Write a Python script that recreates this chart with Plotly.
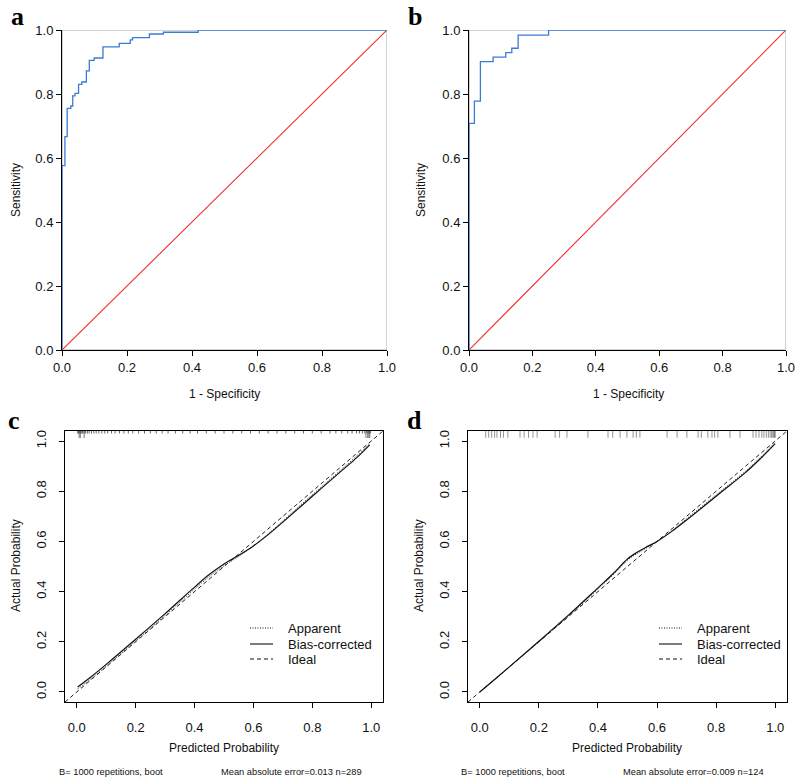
import plotly.graph_objects as go

W, H = 796, 780

# ---------------- data ----------------
tick_vals = [0.0, 0.2, 0.4, 0.6, 0.8, 1.0]
tick_text = ["0.0", "0.2", "0.4", "0.6", "0.8", "1.0"]

# ROC panel a (1 - specificity, sensitivity) step corners
roc_a_fpr = [0.0, 0.0, 0.009, 0.016, 0.027, 0.033, 0.040, 0.051, 0.061, 0.075, 0.084,
             0.099, 0.126, 0.176, 0.210, 0.217, 0.269, 0.312, 0.419, 1.0]
roc_a_tpr = [0.0, 0.576, 0.667, 0.755, 0.7625, 0.794, 0.802, 0.830, 0.8375, 0.872, 0.905,
             0.9125, 0.947, 0.958, 0.969, 0.976, 0.9875, 0.993, 1.0, 1.0]

# ROC panel b
roc_b_fpr = [0.0, 0.0, 0.017, 0.036, 0.076, 0.116, 0.135, 0.155, 0.251, 1.0]
roc_b_tpr = [0.0, 0.708, 0.778, 0.901, 0.915, 0.929, 0.943, 0.984, 1.0, 1.0]

chance = [0.0, 1.0]

# Calibration panel c
cal_c_pred = [0.003, 0.05, 0.1, 0.2, 0.3, 0.4, 0.45, 0.5, 0.55, 0.6, 0.65, 0.7, 0.8, 0.9, 0.95, 0.995]
cal_c_bias = [0.02, 0.062, 0.11, 0.21, 0.312, 0.418, 0.468, 0.51, 0.545, 0.582, 0.627, 0.677, 0.78, 0.882, 0.933, 0.985]
cal_c_app = [0.012, 0.054, 0.103, 0.203, 0.305, 0.41, 0.46, 0.503, 0.54, 0.582, 0.63, 0.682, 0.786, 0.888, 0.94, 0.99]

# Calibration panel d
cal_d_pred = [0.0, 0.05, 0.1, 0.2, 0.3, 0.4, 0.45, 0.5, 0.53, 0.56, 0.6, 0.65, 0.7, 0.8, 0.9, 0.95, 1.0]
cal_d_bias = [0.0, 0.05, 0.1, 0.202, 0.306, 0.415, 0.47, 0.53, 0.555, 0.575, 0.6, 0.64, 0.685, 0.78, 0.875, 0.93, 0.99]
cal_d_app = [0.0, 0.05, 0.1, 0.2, 0.302, 0.41, 0.465, 0.525, 0.55, 0.571, 0.6, 0.642, 0.69, 0.785, 0.88, 0.935, 0.995]

ideal = [-0.04, 1.04]

# rug (distribution of predicted probabilities)
rug_c = [0.003, 0.006, 0.01, 0.013, 0.017, 0.02, 0.025, 0.03, 0.036, 0.042, 0.05, 0.058, 0.066,
         0.075, 0.085, 0.095, 0.105, 0.118, 0.13, 0.145, 0.16, 0.175, 0.19, 0.21, 0.23, 0.25,
         0.27, 0.29, 0.31, 0.335, 0.36, 0.385, 0.41, 0.44, 0.47, 0.5, 0.53, 0.56, 0.59, 0.62,
         0.65, 0.68, 0.71, 0.74, 0.77, 0.8, 0.83, 0.86, 0.88, 0.9, 0.92, 0.935, 0.95, 0.96,
         0.97, 0.978, 0.985, 0.99, 0.994, 0.997]
rug_c_tall = [0.008, 0.012, 0.025, 0.982, 0.988, 0.992, 0.995]
rug_d = [0.02, 0.03, 0.04, 0.05, 0.058, 0.07, 0.08, 0.095, 0.136, 0.15, 0.165, 0.18, 0.194,
         0.255, 0.27, 0.295, 0.366, 0.434, 0.45, 0.475, 0.498, 0.519, 0.53, 0.542, 0.634,
         0.668, 0.701, 0.739, 0.75, 0.772, 0.786, 0.795, 0.806, 0.847, 0.881, 0.925, 0.935,
         0.945, 0.955, 0.962, 0.97, 0.977, 0.983, 0.988, 0.992, 0.995, 0.998, 1.0]

# ---------------- helpers ----------------
FONT = "Liberation Sans, Arial, sans-serif"
SERIF = "Liberation Serif, Times New Roman, serif"


def dx(p):
    return p / W


def dy(p):
    return 1 - p / H


def rug_xy(vals, top, length):
    xs, ys = [], []
    for v in vals:
        xs += [v, v, None]
        ys += [top, top - length, None]
    return xs, ys


fig = go.Figure()

BLUE = "#3a7bd5"
RED = "#ee3030"

# ROC a
fig.add_trace(go.Scatter(x=chance, y=chance, mode="lines", line=dict(color=RED, width=1.1),
                         xaxis="x", yaxis="y", showlegend=False, cliponaxis=False))
fig.add_trace(go.Scatter(x=roc_a_fpr, y=roc_a_tpr, mode="lines", line=dict(color=BLUE, width=1.3, shape="hv"),
                         xaxis="x", yaxis="y", showlegend=False, cliponaxis=False))
# ROC b
fig.add_trace(go.Scatter(x=chance, y=chance, mode="lines", line=dict(color=RED, width=1.1),
                         xaxis="x2", yaxis="y2", showlegend=False, cliponaxis=False))
fig.add_trace(go.Scatter(x=roc_b_fpr, y=roc_b_tpr, mode="lines", line=dict(color=BLUE, width=1.3, shape="hv"),
                         xaxis="x2", yaxis="y2", showlegend=False, cliponaxis=False))

YTOP = 1.04
# Calibration c
rx, ry = rug_xy(rug_c, YTOP, 0.01)
fig.add_trace(go.Scatter(x=rx, y=ry, mode="lines", line=dict(color="#444", width=0.8),
                         xaxis="x3", yaxis="y3", showlegend=False))
rx, ry = rug_xy(rug_c_tall, YTOP, 0.028)
fig.add_trace(go.Scatter(x=rx, y=ry, mode="lines", line=dict(color="#555", width=0.8),
                         xaxis="x3", yaxis="y3", showlegend=False))
fig.add_trace(go.Scatter(x=ideal, y=ideal, mode="lines", line=dict(color="#222", width=1, dash="4px,3px"),
                         xaxis="x3", yaxis="y3", showlegend=False))
fig.add_trace(go.Scatter(x=cal_c_pred, y=cal_c_app, mode="lines",
                         line=dict(color="#222", width=1, dash="1px,1.5px", shape="spline"),
                         xaxis="x3", yaxis="y3", showlegend=False))
fig.add_trace(go.Scatter(x=cal_c_pred, y=cal_c_bias, mode="lines",
                         line=dict(color="#111", width=1.2, shape="spline"),
                         xaxis="x3", yaxis="y3", showlegend=False))

# Calibration d
rx, ry = rug_xy(rug_d, YTOP, 0.027)
fig.add_trace(go.Scatter(x=rx, y=ry, mode="lines", line=dict(color="rgba(60,60,60,0.55)", width=1),
                         xaxis="x4", yaxis="y4", showlegend=False))
fig.add_trace(go.Scatter(x=ideal, y=ideal, mode="lines", line=dict(color="#222", width=1, dash="4px,3px"),
                         xaxis="x4", yaxis="y4", showlegend=False))
fig.add_trace(go.Scatter(x=cal_d_pred, y=cal_d_app, mode="lines",
                         line=dict(color="#222", width=1, dash="1px,1.5px", shape="spline"),
                         xaxis="x4", yaxis="y4", showlegend=False))
fig.add_trace(go.Scatter(x=cal_d_pred, y=cal_d_bias, mode="lines",
                         line=dict(color="#111", width=1.2, shape="spline"),
                         xaxis="x4", yaxis="y4", showlegend=False))


def roc_axis(domain, anchor):
    return dict(domain=domain, anchor=anchor, range=[0, 1], showgrid=False, zeroline=False,
                showline=True, linecolor="black", linewidth=1, ticks="outside", ticklen=5,
                tickcolor="black", tickwidth=1, tickvals=tick_vals, ticktext=tick_text,
                tickfont=dict(family=FONT, size=13, color="#111"), layer="below traces",
                automargin=False, ticklabeloverflow="allow")


def cal_axis(domain, anchor, rot):
    d = dict(domain=domain, anchor=anchor, range=[-0.04, 1.04], showgrid=False, zeroline=False,
             showline=True, mirror=True, linecolor="black", linewidth=1, ticks="outside", ticklen=5,
             tickcolor="black", tickwidth=1, tickvals=tick_vals, ticktext=tick_text,
             tickfont=dict(family=FONT, size=13, color="#111"), ticklabelstandoff=8,
             automargin=False, ticklabeloverflow="allow")
    if rot:
        d["tickangle"] = -90
    return d


ROC_Y = [dy(350), dy(30)]
CAL_Y = [dy(702), dy(431)]

layout = dict(
    template="none",
    width=W, height=H, margin=dict(l=0, r=0, t=0, b=0, autoexpand=False),
    paper_bgcolor="white", plot_bgcolor="white", showlegend=False,
    xaxis=roc_axis([dx(62), dx(387)], "y"),
    yaxis=roc_axis(ROC_Y, "x"),
    xaxis2=roc_axis([dx(469), dx(786)], "y2"),
    yaxis2=roc_axis(ROC_Y, "x2"),
    xaxis3=cal_axis([dx(65), dx(383)], "y3", False),
    yaxis3=cal_axis(CAL_Y, "x3", True),
    xaxis4=cal_axis([dx(468), dx(787)], "y4", False),
    yaxis4=cal_axis(CAL_Y, "x4", True),
)
fig.update_layout(**layout)

# gray frame on ROC panels
for xr, yr in [("x", "y"), ("x2", "y2")]:
    fig.add_shape(type="rect", xref=xr, yref=yr, x0=0, y0=0, x1=1, y1=1,
                  line=dict(color="#aaaaaa", width=1), layer="below")

ann = []


def text(x, y, s, size=12, angle=0, family=FONT, bold=False, xanchor="center", color="#111"):
    ann.append(dict(x=dx(x), y=dy(y), xref="paper", yref="paper", text=("<b>%s</b>" % s) if bold else s,
                    showarrow=False, xanchor=xanchor, yanchor="middle", textangle=angle,
                    font=dict(family=family, size=size, color=color)))


# panel letters
text(17, 16, "a", 26, family=SERIF, bold=True, color="black")
text(415, 16, "b", 26, family=SERIF, bold=True, color="black")
text(14, 420, "c", 26, family=SERIF, bold=True, color="black")
text(414, 420, "d", 26, family=SERIF, bold=True, color="black")

# axis titles
text(224, 394, "1 - Specificity")
text(628, 394, "1 - Specificity")
text(16, 190, "Sensitivity", angle=-90)
text(421, 190, "Sensitivity", angle=-90)
text(224, 748, "Predicted Probability")
text(627, 748, "Predicted Probability")
text(16, 566, "Actual Probability", angle=-90)
text(419, 566, "Actual Probability", angle=-90)

# footnotes
text(111, 772, "B= 1000 repetitions, boot", 9.3)
text(291, 772, "Mean absolute error=0.013 n=289", 9.3)
text(513, 772, "B= 1000 repetitions, boot", 9.3)
text(693, 772, "Mean absolute error=0.009 n=124", 9.3)

# legends
legend_labels = ["Apparent", "Bias-corrected", "Ideal"]
legend_dash = ["1px,1.5px", "solid", "4px,3px"]
legend_rows = [628, 644, 659]
for x0, tx in [(250, 286), (659, 695)]:
    for lab, dsh, yy in zip(legend_labels, legend_dash, legend_rows):
        fig.add_shape(type="line", xref="paper", yref="paper", x0=dx(x0), x1=dx(x0 + 23),
                      y0=dy(yy), y1=dy(yy), line=dict(color="#111", width=1.1, dash=dsh))
        text(tx, yy, lab, 13, xanchor="left")

fig.update_layout(annotations=ann)
fig.write_html("out.html", config={"displayModeBar": False, "staticPlot": True},
               post_script="document.body.style.margin='0px';document.body.style.overflow='hidden';")
